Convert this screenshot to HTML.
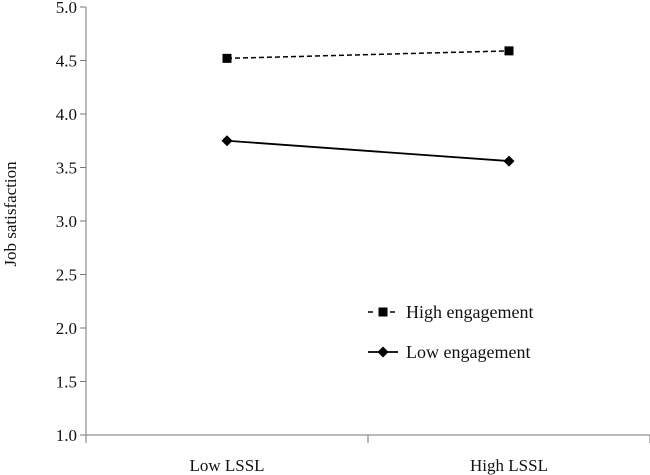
<!DOCTYPE html>
<html><head><meta charset="utf-8"><style>
html,body{margin:0;padding:0;background:#fff;}
svg{display:block;font-family:"Liberation Serif",serif;}
</style></head><body>
<svg id="chart" width="650" height="475" viewBox="0 0 650 475" xmlns="http://www.w3.org/2000/svg">
<g id="axes"></g><g id="series"></g><g id="legend"></g>
</svg>
<script>
const categories = ["Low LSSL", "High LSSL"];
const highEngagement = [4.52, 4.59];
const lowEngagement = [3.75, 3.56];
const yTicks = ["1.0","1.5","2.0","2.5","3.0","3.5","4.0","4.5","5.0"];

const NS = "http://www.w3.org/2000/svg";
const X0 = 86, X1 = 650, Y0 = 435, Y1 = 7, YMIN = 1, YMAX = 5;
const yScale = v => Y0 - (v - YMIN) / (YMAX - YMIN) * (Y0 - Y1);
const band = (X1 - X0) / categories.length;
const xScale = i => X0 + band * (i + 0.5);
function mk(tag, attrs, parent, text) {
  const e = document.createElementNS(NS, tag);
  for (const k in attrs) e.setAttribute(k, attrs[k]);
  if (text !== undefined) e.textContent = text;
  parent.appendChild(e);
  return e;
}
const axes = document.getElementById("axes");
const series = document.getElementById("series");
const legend = document.getElementById("legend");
let e;
e = mk("line", {x1: X0, y1: Y1, x2: X0, y2: Y0, stroke: "#777", "stroke-width": 1}, axes);


e = mk("line", {x1: X0, y1: Y0, x2: X1, y2: Y0, stroke: "#777", "stroke-width": 1}, axes);


yTicks.forEach(t => {
  const y = yScale(parseFloat(t));
  e = mk("line", {x1: X0 - 6, y1: y, x2: X0, y2: y, stroke: "#777"}, axes);
  
  
  e = mk("text", {x: X0 - 9, y: y + 6, "text-anchor": "end", "font-size": 17, fill: "#111"}, axes, t);
  
  
});
for (let i = 0; i <= categories.length; i++) {
  const x = X0 + band * i;
  e = mk("line", {x1: x, y1: Y0, x2: x, y2: Y0 + 8, stroke: "#777"}, axes);
  
  
}
categories.forEach((c, i) => {
  e = mk("text", {x: xScale(i), y: 471, "text-anchor": "middle", "font-size": 17, fill: "#111"}, axes, c);
  
  
});
e = mk("text", {x: 0, y: 0, transform: "translate(16,214) rotate(-90)", "text-anchor": "middle", "font-size": 17, fill: "#111"}, axes, "Job satisfaction");



function square(x, y, parent) {
  return mk("rect", {x: x - 4.5, y: y - 4.5, width: 9, height: 9, fill: "#000"}, parent);
}
function diamond(x, y, parent) {
  return mk("polygon", {points: `${x},${y-5.5} ${x+5.5},${y} ${x},${y+5.5} ${x-5.5},${y}`, fill: "#000"}, parent);
}
e = mk("polyline", {points: highEngagement.map((v, i) => xScale(i) + "," + yScale(v)).join(" "), fill: "none", stroke: "#000", "stroke-width": 1.5, "stroke-dasharray": "5,3"}, series);


highEngagement.forEach((v, i) => {
  e = square(xScale(i), yScale(v), series);
  
  
});
e = mk("polyline", {points: lowEngagement.map((v, i) => xScale(i) + "," + yScale(v)).join(" "), fill: "none", stroke: "#000", "stroke-width": 1.8}, series);


lowEngagement.forEach((v, i) => {
  e = diamond(xScale(i), yScale(v), series);
  
  
});

e = mk("line", {x1: 368, y1: 312, x2: 398, y2: 312, stroke: "#000", "stroke-width": 1.5, "stroke-dasharray": "5,6"}, legend);


e = square(383, 312, legend);


e = mk("text", {x: 406, y: 318, "font-size": 18, fill: "#111"}, legend, "High engagement");


e = mk("line", {x1: 368, y1: 352, x2: 398, y2: 352, stroke: "#000", "stroke-width": 1.8}, legend);


e = diamond(383, 352, legend);


e = mk("text", {x: 406, y: 358, "font-size": 18, fill: "#111"}, legend, "Low engagement");


</script>
</body></html>
